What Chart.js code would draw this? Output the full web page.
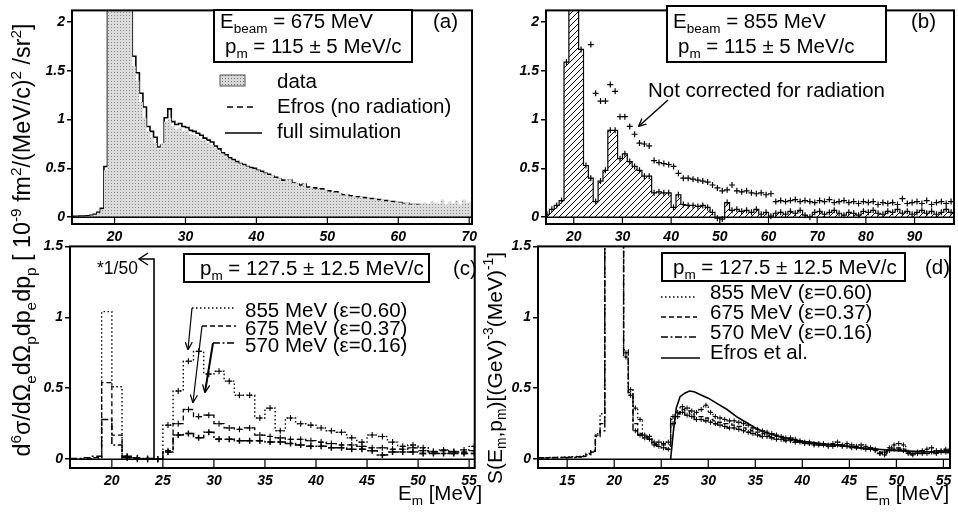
<!DOCTYPE html>
<html><head><meta charset="utf-8">
<script src="https://cdn.jsdelivr.net/npm/chart.js@4.4.1/dist/chart.umd.min.js"></script>
<style>
html,body{margin:0;padding:0;background:#fff}
body{width:958px;height:514px;position:relative;overflow:hidden;font-family:"Liberation Sans",Arial,Helvetica,sans-serif;color:#000}
canvas{position:absolute}
.t{position:absolute;white-space:nowrap;line-height:1}
.t sub,.rot sub{font-size:0.66em;vertical-align:-0.35em;line-height:0}
.t sup,.rot sup{font-size:0.66em;vertical-align:0.6em;line-height:0}
.box{position:absolute;border:2px solid #000;box-sizing:border-box;background:#fff}
.rot{position:absolute;white-space:nowrap;line-height:1;transform:translate(-50%,-50%) rotate(-90deg)}
svg{position:absolute;left:0;top:0}
</style></head><body>
<canvas id="ca" width="452" height="248" style="left:30px;top:0px"></canvas>
<canvas id="cb" width="458" height="248" style="left:500px;top:0px"></canvas>
<canvas id="cc" width="452" height="264" style="left:30px;top:236px"></canvas>
<canvas id="cd" width="458" height="264" style="left:500px;top:236px"></canvas>
<div class="box" style="left:213px;top:9px;width:200px;height:54px"></div>
<div class="box" style="left:666px;top:5px;width:221px;height:58px"></div>
<div class="box" style="left:183px;top:253px;width:247px;height:30px"></div>
<div class="box" style="left:661px;top:252px;width:245px;height:30px"></div>
<svg width="958" height="514">
<defs>
<marker id="ah" viewBox="0 0 10 10" refX="9" refY="5" markerWidth="8" markerHeight="8" markerUnits="userSpaceOnUse" orient="auto"><path d="M0,0.5 L10,5 L0,9.5" fill="none" stroke="#000" stroke-width="1.6"/></marker>
<pattern id="stip" width="3" height="3" patternUnits="userSpaceOnUse"><rect width="3" height="3" fill="#d8d8d8"/><rect width="1" height="1" fill="#707070"/></pattern>
</defs>
<rect x="220" y="75" width="25" height="11" fill="url(#stip)" stroke="#555" stroke-width="1"/>
<line x1="227" y1="107" x2="254" y2="107" stroke="#000" stroke-width="1.7" stroke-dasharray="6,4"/>
<line x1="225" y1="133" x2="262" y2="133" stroke="#000" stroke-width="1.7"/>
<line x1="668" y1="100" x2="639" y2="126" stroke="#000" stroke-width="1.4" marker-end="url(#ah)"/>
<polyline points="148,253 139,259 148,265" fill="none" stroke="#000" stroke-width="1.4"/>
<polyline points="139,259 154,259 154,459" fill="none" stroke="#000" stroke-width="1.6"/>
<line x1="192" y1="308" x2="236" y2="308" stroke="#000" stroke-width="1.3" stroke-dasharray="1.5,2.5"/>
<line x1="192" y1="308" x2="188" y2="349" stroke="#000" stroke-width="1.2" marker-end="url(#ah)"/>
<line x1="202" y1="326" x2="236" y2="326" stroke="#000" stroke-width="1.3" stroke-dasharray="5,3"/>
<line x1="202" y1="326" x2="193" y2="402" stroke="#000" stroke-width="1.2" marker-end="url(#ah)"/>
<line x1="213" y1="343" x2="236" y2="343" stroke="#000" stroke-width="1.5" stroke-dasharray="7,2.5,2,2.5"/>
<line x1="213" y1="343" x2="205" y2="392" stroke="#000" stroke-width="2" marker-end="url(#ah)"/>
<line x1="661" y1="297" x2="697" y2="297" stroke="#000" stroke-width="1.3" stroke-dasharray="1.5,2.5"/>
<line x1="661" y1="317" x2="697" y2="317" stroke="#000" stroke-width="1.3" stroke-dasharray="5,3"/>
<line x1="661" y1="337" x2="697" y2="337" stroke="#000" stroke-width="1.5" stroke-dasharray="7,2.5,2,2.5"/>
<line x1="661" y1="358" x2="700" y2="358" stroke="#000" stroke-width="1.7"/>
</svg>
<div class="rot" style="left:23px;top:240px;font-size:23.3px">d<sup>6</sup>σ/dΩ<sub>e</sub>dΩ<sub>p</sub>dp<sub>e</sub>dp<sub>p</sub> [ 10<sup>-9</sup> fm<sup>2</sup>/(MeV/c)<sup>2</sup> /sr<sup>2</sup>]</div>
<div class="rot" style="left:494px;top:368px;font-size:21px">S(E<sub>m</sub>,p<sub>m</sub>)[(GeV)<sup>-3</sup>(MeV)<sup>-1</sup>]</div>
<script>
// ================= DATA =================
// Panel (a): E_beam = 675 MeV, p_m = 115 MeV/c ; 0.5 MeV bins starting at 14.0
const aBinStart = 14.0, aBinWidth = 0.5;
const aData = [0.005,0.006,0.008,0.008,0.012,0.018,0.025,0.045,0.08,0.48,
 3.0,3.0,3.0,3.0,3.0,3.0,3.0,1.55,1.40,1.18,
 1.02,0.88,0.82,0.76,0.70,0.76,0.98,1.02,0.93,0.90,
 0.92,0.88,0.89,0.85,0.84,0.83,0.80,0.79,0.76,0.74,
 0.71,0.68,0.65,0.62,0.60,0.58,0.56,0.55,0.53,0.52,
 0.50,0.49,0.48,0.46,0.45,0.43,0.43,0.40,0.40,0.37,
 0.38,0.39,0.35,0.35,0.32,0.35,0.30,0.31,0.29,0.29,
 0.28,0.28,0.26,0.26,0.25,0.25,0.22,0.24,0.21,0.22,
 0.20,0.21,0.19,0.20,0.18,0.19,0.17,0.18,0.16,0.17,
 0.15,0.16,0.15,0.14,0.15,0.13,0.14,0.13,0.14,0.15,
 0.14,0.16,0.15,0.14,0.18,0.13,0.16,0.14,0.17,0.13,
 0.18,0.15,0.16];
const aSim = [0.010,0.010,0.012,0.012,0.015,0.020,0.030,0.050,0.090,0.52,
 2.8,3.0,3.0,3.0,3.0,2.8,2.4,1.65,1.48,1.27,
 1.13,0.93,0.88,0.82,0.72,0.74,1.02,1.11,0.98,0.95,
 0.96,0.93,0.92,0.89,0.88,0.86,0.84,0.81,0.79,0.77,
 0.73,0.70,0.66,0.64,0.61,0.59,0.57,0.55,0.54,0.52,
 0.51,0.50,0.48,0.47,0.45,0.44,0.42,0.41,0.39,0.38,
 0.37,0.38,0.35,0.34,0.33,0.34,0.31,0.30,0.30,0.28,
 0.29,0.27,0.27,0.25,0.26,0.24,0.23,0.23,0.22,0.21,
 0.21,0.20,0.20,0.19,0.19,0.18,0.18,0.17,0.17,0.16,
 0.16,0.15,0.15,0.14,0.14,0.13,0.13,0.13,0.12,0.12,
 0.12,0.12,0.12,0.11,0.11,0.11,0.11,0.11,0.10,0.10,
 0.10,0.10,0.10];
const aEfrosStart = 26.5, aEfrosWidth = 0.5;
const aEfros = [0.25,0.70,0.70,0.62,0.60,0.59,0.58,0.56,0.55,0.52,
 0.50,0.47,0.44,0.41,0.38,0.35,0.33,0.31,0.29,0.28,
 0.26,0.25,0.24,0.23,0.22,0.21,0.205,0.20,0.19,0.185,
 0.18,0.175,0.17,0.165,0.16,0.155,0.15,0.14,0.135,0.13,
 0.125,0.12,0.115,0.11,0.105,0.10,0.095,0.092,0.089,0.086,
 0.083,0.080,0.077,0.074,0.071,0.068,0.065,0.062,0.060,0.058,
 0.056,0.054,0.052,0.050,0.048,0.046,0.045,0.044,0.042,0.041,
 0.040,0.039,0.038,0.037,0.036,0.035,0.034,0.033,0.033,0.032,
 0.031,0.031,0.030,0.030,0.029,0.029,0.028,0.028];
const aXTicks = [20,30,40,50,60,70];
const abYTicks = [0,0.5,1,1.5,2];

// Panel (b): E_beam = 855 MeV ; 1 MeV bins starting at 14
const bBinStart = 14, bBinWidth = 1;
const bCorrected = [0.03,0.08,0.12,0.17,1.59,2.6,2.6,1.72,0.53,0.40,
 0.16,0.37,0.48,0.89,0.89,0.60,0.65,0.57,0.52,0.48,
 0.42,0.42,0.25,0.26,0.25,0.25,0.10,0.23,0.13,0.12,
 0.12,0.11,0.12,0.10,0.05,-0.01,-0.02,0.15,0.07,0.08,
 0.06,0.07,0.05,0.08,0.03,0.05,0.01,0.04,0.05,0.03,
 0.06,0.04,0.07,0.02,0.00,0.05,0.06,0.03,0.05,0.07,
 0.04,0.02,0.05,0.04,0.02,0.06,0.05,0.07,0.04,0.03,
 0.06,0.05,0.08,0.04,0.06,0.03,0.05,0.07,0.04,0.06,
 0.03,0.05,0.08,0.05];
const bUncorrStart = 23;
const bUncorrected = [1.77,1.27,1.19,1.19,1.36,1.29,1.03,1.03,0.93,0.85,
 0.76,0.75,0.73,0.58,0.56,0.55,0.54,0.52,0.45,0.40,
 0.40,0.39,0.38,0.37,0.36,0.33,0.30,0.27,0.28,0.33,
 0.27,0.26,0.27,0.25,0.24,0.25,0.23,0.24,0.16,0.17,
 0.16,0.17,0.18,0.16,0.17,0.16,0.15,0.17,0.16,0.18,
 0.15,0.16,0.17,0.15,0.16,0.14,0.16,0.15,0.16,0.13,
 0.15,0.14,0.15,0.13,0.19,0.14,0.15,0.16,0.14,0.17,
 0.13,0.15,0.16,0.14,0.16];
const bXTicks = [20,30,40,50,60,70,80,90];

// Panel (c): p_m = 127.5 MeV/c, cross sections ; 1 MeV bins starting at 16 (bins below 24 scaled by 1/50)
const cBinStart = 16, cBinWidth = 1;
const c855 = [0,0,0.01,1.04,0.51,0.01,0,0,0,0.24,
 0.48,0.69,0.76,0.60,0.62,0.55,0.45,0.45,0.29,0.36,
 0.20,0.29,0.25,0.24,0.22,0.20,0.19,0.15,0.12,0.17,
 0.16,0.12,0.09,0.10,0.08,0.055,0.065,0.055,0.065,0.09];
const c675 = [0,0,0.01,0.54,0.17,0.01,0.005,0,0,0.06,
 0.25,0.35,0.30,0.31,0.25,0.22,0.21,0.22,0.17,0.16,
 0.15,0.14,0.14,0.13,0.12,0.11,0.10,0.10,0.09,0.08,
 0.08,0.07,0.07,0.08,0.06,0.05,0.06,0.05,0.05,0.06];
const c570 = [0.005,0.01,0.02,0.28,0.10,0.02,0.01,0.005,0,0.05,
 0.17,0.18,0.15,0.19,0.14,0.14,0.13,0.13,0.13,0.12,
 0.12,0.11,0.10,0.09,0.09,0.08,0.08,0.07,0.07,0.06,
 0.03,0.05,0.05,0.05,0.04,0.04,0.04,0.04,0.04,0.04];
const cXTicks = [20,25,30,35,40,45,50,55];
const cdYTicks = [0,0.5,1,1.5];

// Panel (d): spectral function ; 0.5 MeV bins starting at 12.0
const dBinStart = 12.0, dBinWidth = 0.5;
const d855 = [0.010,0.010,0.012,0.010,0.012,0.015,0.015,0.018,0.020,0.025,
 0.040,0.060,0.18,0.32,3,3,3,3,0.75,0.49,
 0.36,0.28,0.17,0.16,0.12,0.12,0.11,0.12,0.30,0.33,
 0.37,0.36,0.34,0.33,0.35,0.38,0.33,0.30,0.29,0.28,
 0.27,0.27,0.26,0.25,0.24,0.22,0.21,0.20,0.19,0.18,
 0.17,0.16,0.15,0.15,0.14,0.13,0.12,0.12,0.11,0.11,
 0.11,0.10,0.11,0.12,0.10,0.11,0.10,0.09,0.10,0.09,
 0.08,0.07,0.04,0.05,0.08,0.10,0.11,0.10,0.05,0.04,
 0.05,0.06,0.07,0.08,0.06,0.06,0.07,0.06];
const d675 = [0.010,0.008,0.010,0.012,0.010,0.012,0.012,0.015,0.018,0.020,
 0.035,0.055,0.17,0.25,3,3,3,3,0.77,0.47,
 0.25,0.18,0.16,0.15,0.11,0.10,0.10,0.10,0.28,0.32,
 0.35,0.34,0.32,0.30,0.30,0.29,0.28,0.27,0.26,0.25,
 0.25,0.24,0.23,0.22,0.21,0.20,0.19,0.18,0.17,0.16,
 0.16,0.15,0.14,0.14,0.13,0.12,0.12,0.11,0.11,0.10,
 0.10,0.10,0.10,0.10,0.10,0.09,0.09,0.09,0.08,0.08,
 0.08,0.07,0.05,0.04,0.07,0.08,0.08,0.07,0.05,0.04,
 0.04,0.05,0.05,0.05,0.05,0.05,0.06,0.05];
const d570 = [0.008,0.010,0.010,0.010,0.012,0.010,0.012,0.012,0.015,0.018,
 0.030,0.050,0.16,0.20,3,3,3,3,0.72,0.45,
 0.20,0.17,0.15,0.14,0.10,0.09,0.08,0.07,0.25,0.30,
 0.33,0.31,0.30,0.28,0.28,0.27,0.26,0.25,0.24,0.23,
 0.22,0.22,0.21,0.20,0.19,0.18,0.17,0.16,0.16,0.15,
 0.14,0.14,0.13,0.13,0.12,0.12,0.11,0.11,0.10,0.10,
 0.10,0.09,0.09,0.10,0.09,0.09,0.08,0.08,0.08,0.07,
 0.07,0.06,0.04,0.03,0.06,0.07,0.07,0.06,0.04,0.03,
 0.04,0.04,0.04,0.05,0.04,0.05,0.05,0.05];
const dEfrosX = [26.0,26.3,26.6,27.0,27.5,28.0,28.5,29,30,31,32,33,34,35,36,37,38,40,42,44,46,48,50,52,54,55.7];
const dEfrosY = [0,0.20,0.36,0.44,0.465,0.48,0.475,0.46,0.43,0.39,0.35,0.30,0.26,0.22,0.19,0.17,0.15,0.125,0.11,0.095,0.08,0.07,0.06,0.055,0.05,0.045];
const dXTicks = [15,20,25,30,35,40,45,50,55];

// ================= HELPERS =================
const SANS = '"Liberation Sans", Arial, Helvetica, sans-serif';
const tickFont = {family: SANS, size: 14, weight: 'bold', style: 'italic'};

function histPoints(start, width, vals){
  const pts = [{x:start, y:0}];
  vals.forEach((v,i)=>pts.push({x:start+i*width, y:v}));
  pts.push({x:start+vals.length*width, y:vals[vals.length-1]});
  return pts;
}
function centerPoints(start, width, vals, from){
  return vals.map((v,i)=>({x:start+(i+0.5)*width, y:v})).filter(p=>p.x>=(from===undefined?-1e9:from));
}
function stepDS(start, width, vals, opt){
  return Object.assign({data:histPoints(start,width,vals), stepped:true, borderColor:'#000', borderWidth:1.3,
    pointRadius:0, fill:false, clip:0}, opt||{});
}
function crossDS(pts, r, w){
  return {data:pts, showLine:false, pointStyle:'cross', pointRadius:r, pointBorderWidth:w||1.1,
    pointBorderColor:'#000', pointBackgroundColor:'#000', clip:0};
}
function stipple(){
  const c=document.createElement('canvas'); c.width=3; c.height=3;
  const g=c.getContext('2d'); g.fillStyle='#dcdcdc'; g.fillRect(0,0,3,3);
  g.fillStyle='#8a8a8a'; g.fillRect(0,0,1,1);
  return g.createPattern(c,'repeat');
}
function hatch(){
  const c=document.createElement('canvas'); c.width=6; c.height=6;
  const g=c.getContext('2d'); g.strokeStyle='#000'; g.lineWidth=1;
  g.beginPath(); g.moveTo(0,6); g.lineTo(6,0); g.moveTo(-1,1); g.lineTo(1,-1); g.moveTo(5,7); g.lineTo(7,5); g.stroke();
  return g.createPattern(c,'repeat');
}
const framePlugin = {id:'frame', afterDatasetsDraw(chart){
  const {ctx, chartArea:a, scales:{x,y}} = chart;
  ctx.save(); ctx.strokeStyle='#000';
  const y0 = y.getPixelForValue(0);
  ctx.lineWidth=1.5; ctx.beginPath(); ctx.moveTo(a.left,y0); ctx.lineTo(a.right,y0); ctx.stroke();
  ctx.lineWidth=1.2; ctx.beginPath();
  x.ticks.forEach(t=>{const px=x.getPixelForValue(t.value); ctx.moveTo(px,y0); ctx.lineTo(px,a.bottom);});
  ctx.stroke();
  ctx.lineWidth=2; ctx.strokeRect(a.left,a.top,a.right-a.left,a.bottom-a.top);
  ctx.restore();
}};
function makePanel(id, c){
  return new Chart(document.getElementById(id), {
    type:'line',
    data:{datasets:c.datasets},
    options:{
      responsive:false, animation:false, devicePixelRatio:1, events:[],
      layout:{autoPadding:false, padding:{left:0, top:c.padT, right:c.padR, bottom:0}},
      plugins:{legend:{display:false}, tooltip:{enabled:false}},
      elements:{point:{radius:0, hoverRadius:0}, line:{tension:0}},
      scales:{
        x:{type:'linear', min:c.xMin, max:c.xMax,
          afterFit(s){s.height=c.xH;},
          afterBuildTicks(s){s.ticks=c.xTicks.map(v=>({value:v}));},
          grid:{display:false, drawTicks:false}, border:{display:false},
          ticks:{font:tickFont, color:'#000', padding:5, maxRotation:0, autoSkip:false, callback:v=>String(v)}},
        y:{type:'linear', min:c.yMin, max:c.yMax,
          afterFit(s){s.width=c.yW;},
          afterBuildTicks(s){s.ticks=c.yTicks.map(v=>({value:v}));},
          grid:{display:true, drawOnChartArea:false, drawTicks:true, tickLength:5, color:'#000', lineWidth:1.5},
          border:{display:false},
          ticks:{font:tickFont, color:'#000', padding:2, callback:v=>String(v)}}
      }
    },
    plugins:[framePlugin]
  });
}

// ================= PANELS =================
makePanel('ca', {xMin:14, xMax:70.4, yMin:-0.07, yMax:2.12, xTicks:aXTicks, yTicks:abYTicks,
  yW:42, xH:24, padT:3, padR:3,
  datasets:[
    stepDS(aBinStart,aBinWidth,aData,{borderWidth:0, fill:'origin', backgroundColor:stipple()}),
    stepDS(aEfrosStart,aEfrosWidth,aEfros,{borderWidth:1.6, borderDash:[6,4]}),
    stepDS(aBinStart,aBinWidth,aSim,{borderWidth:1.6})
  ]});

makePanel('cb', {xMin:14.3, xMax:98.1, yMin:-0.07, yMax:2.12, xTicks:bXTicks, yTicks:abYTicks,
  yW:46, xH:24, padT:4, padR:4,
  datasets:[
    stepDS(bBinStart,bBinWidth,bCorrected,{borderWidth:1.2, fill:'origin', backgroundColor:hatch()}),
    {data:centerPoints(bBinStart,bBinWidth,bCorrected), showLine:false, pointStyle:'line', pointRotation:90,
      pointRadius:3, pointBorderWidth:1.2, pointBorderColor:'#000', clip:0},
    crossDS(centerPoints(bUncorrStart,bBinWidth,bUncorrected), 3, 1.2)
  ]});

makePanel('cc', {xMin:15.9, xMax:55.55, yMin:-0.0625, yMax:1.5, xTicks:cXTicks, yTicks:cdYTicks,
  yW:40, xH:32, padT:7, padR:7,
  datasets:[
    stepDS(cBinStart,cBinWidth,c855,{borderWidth:1.4, borderDash:[1.5,2.5]}),
    stepDS(cBinStart,cBinWidth,c675,{borderWidth:1.3, borderDash:[5,3]}),
    stepDS(cBinStart,cBinWidth,c570,{borderWidth:1.5, borderDash:[7,2.5,2,2.5]}),
    crossDS(centerPoints(cBinStart,cBinWidth,c855,21), 3, 1.1),
    crossDS(centerPoints(cBinStart,cBinWidth,c675,21), 3, 1.1),
    crossDS(centerPoints(cBinStart,cBinWidth,c570,21), 3, 1.5)
  ]});

makePanel('cd', {xMin:11.9, xMax:55.7, yMin:-0.0625, yMax:1.5, xTicks:dXTicks, yTicks:cdYTicks,
  yW:38, xH:32, padT:7, padR:8,
  datasets:[
    stepDS(dBinStart,dBinWidth,d855,{borderWidth:1.3, borderDash:[1.5,2.5]}),
    stepDS(dBinStart,dBinWidth,d675,{borderWidth:1.3, borderDash:[5,3]}),
    stepDS(dBinStart,dBinWidth,d570,{borderWidth:1.4, borderDash:[7,2.5,2,2.5]}),
    crossDS(centerPoints(dBinStart,dBinWidth,d855,21), 2.5, 1),
    crossDS(centerPoints(dBinStart,dBinWidth,d570,21), 2.5, 1),
    {data:dEfrosX.map((x,i)=>({x:x, y:dEfrosY[i]})), borderColor:'#000', borderWidth:1.6, pointRadius:0, fill:false, clip:0}
  ]});

// ================= TEXT =================
function label(html, left, baseline, size){
  const d=document.createElement('div'); d.className='t';
  d.style.fontSize=size+'px'; d.style.left=left+'px'; d.style.top=(baseline-0.8465*size)+'px';
  d.innerHTML=html; document.body.appendChild(d);
}
const FS = 20.5;
label('E<sub>beam</sub> = 675 MeV', 220, 28, FS);
label('p<sub>m</sub> = 115 ± 5 MeV/c', 225, 53, FS);
label('(a)', 433, 28, FS);
label('data', 277, 88, FS);
label('Efros (no radiation)', 277, 113, FS);
label('full simulation', 277, 138, FS);
label('E<sub>beam</sub> = 855 MeV', 673, 28, FS);
label('p<sub>m</sub> = 115 ± 5 MeV/c', 678, 53, FS);
label('(b)', 911, 28, FS);
label('Not corrected for radiation', 648, 97, FS);
label('*1/50', 97, 275, 17.5);
label('p<sub>m</sub> = 127.5 ± 12.5 MeV/c', 200, 275, FS);
label('(c)', 453, 275, FS);
label('855 MeV (ε=0.60)', 245, 317, FS);
label('675 MeV (ε=0.37)', 245, 335, FS);
label('570 MeV (ε=0.16)', 245, 352, FS);
label('E<sub>m</sub> [MeV]', 398, 500, FS);
label('p<sub>m</sub> = 127.5 ± 12.5 MeV/c', 673, 274, FS);
label('(d)', 925, 274, FS);
label('855 MeV (ε=0.60)', 710, 299, FS);
label('675 MeV (ε=0.37)', 710, 319, FS);
label('570 MeV (ε=0.16)', 710, 339, FS);
label('Efros et al.', 710, 359, FS);
label('E<sub>m</sub> [MeV]', 865, 500, FS);
</script>
</body></html>
